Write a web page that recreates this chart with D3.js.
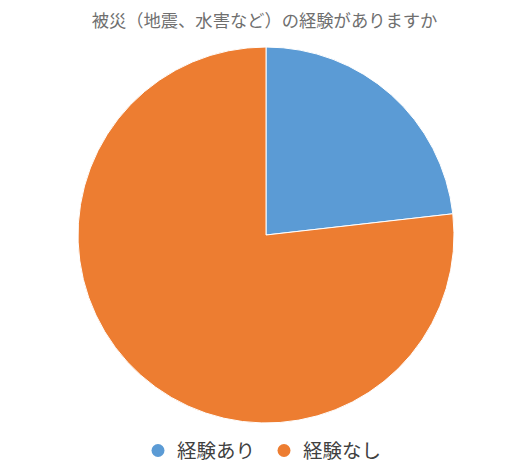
<!DOCTYPE html>
<html><head><meta charset="utf-8">
<script src="https://cdn.jsdelivr.net/npm/d3@7"></script>
<style>
html,body{margin:0;padding:0;background:#fff;}
svg{display:block;font-family:"Noto Sans CJK JP","Noto Sans",sans-serif;}
</style></head>
<body>
<svg id="c" width="514" height="474"></svg>
<script>
const title = "被災（地震、水害など）の経験がありますか";
const categories = ["経験あり", "経験なし"];
const values = [23.2, 76.8];
const colors = ["#5B9BD5", "#ED7D31"];

const svg = d3.select("#c");
const cx = 266, cy = 235, r = 188;

svg.append("text").attr("x", 264.5).attr("y", 27)
  .attr("text-anchor", "middle").attr("font-size", 17.3)
  .attr("fill", "#6f6f6f").text(title);

const pie = d3.pie().sort(null).value(d => d)(values);
const arc = d3.arc().innerRadius(0).outerRadius(r);
const color = d3.scaleOrdinal().domain(categories).range(colors);

svg.append("g").attr("transform", `translate(${cx},${cy})`)
  .selectAll("path").data(pie).join("path")
  .attr("d", arc)
  .attr("fill", (d, i) => color(categories[i]))
  .attr("stroke", "#fff").attr("stroke-width", 1);

const legendX = d3.scalePoint().domain(categories).range([158, 284]);
const lg = svg.append("g").selectAll("g").data(categories).join("g")
  .attr("transform", d => `translate(${legendX(d)},450.5)`);
lg.append("circle").attr("r", 6.5).attr("fill", d => color(d));
lg.append("text").attr("x", 19).attr("y", 7).attr("font-size", 19.5)
  .attr("fill", "#404040").text(d => d);
</script>
</body></html>
